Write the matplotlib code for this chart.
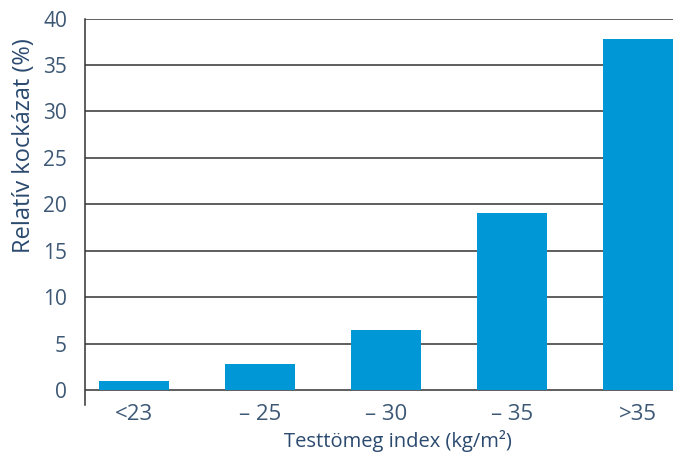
import matplotlib
matplotlib.use("Agg")
import matplotlib.pyplot as plt

categories = ["<23", "– 25", "– 30", "– 35", ">35"]
values = [1.0, 2.8, 6.5, 19.1, 37.8]
yticks = [0, 5, 10, 15, 20, 25, 30, 35, 40]

bar_color = "#0097d7"
tick_color = "#3d5875"
label_color = "#2b4a6f"
line_color = "#333333"

plt.rcParams["font.family"] = ["Open Sans", "DejaVu Sans"]

fig = plt.figure(figsize=(6.75, 4.54), dpi=100)
ax = fig.add_axes([85 / 675, 1 - 405 / 454, 588 / 675, (405 - 18.5) / 454])

x = list(range(len(categories)))
ax.bar(x, values, width=0.556, color=bar_color, zorder=3)

ax.set_xlim(-0.39, 4.278)
ax.set_ylim(-1.6, 40)
ax.set_yticks(yticks)
ax.set_yticklabels([str(t) for t in yticks])
ax.set_xticks(x)
ax.set_xticklabels(categories)

for t in yticks:
    ax.axhline(t, color=line_color, linewidth=1.1, zorder=2)

for side in ("top", "right", "bottom"):
    ax.spines[side].set_visible(False)
ax.spines["left"].set_color(line_color)
ax.spines["left"].set_linewidth(1.1)

ax.tick_params(axis="y", length=0, pad=13, labelsize=15, labelcolor=tick_color)
ax.tick_params(axis="x", length=0, pad=-1, labelsize=16, labelcolor=tick_color)

# axis titles
fig.text(398 / 675, 1 - 447 / 454, "Testtömeg index (kg/m²)", ha="center",
         va="baseline", fontsize=14.5, color=label_color)
fig.text(24 / 675, 1 - 146 / 454, "Relatív kockázat (%)", rotation=90,
         ha="center", va="center", fontsize=17, color=label_color)

fig.savefig("out.png", dpi=100)
